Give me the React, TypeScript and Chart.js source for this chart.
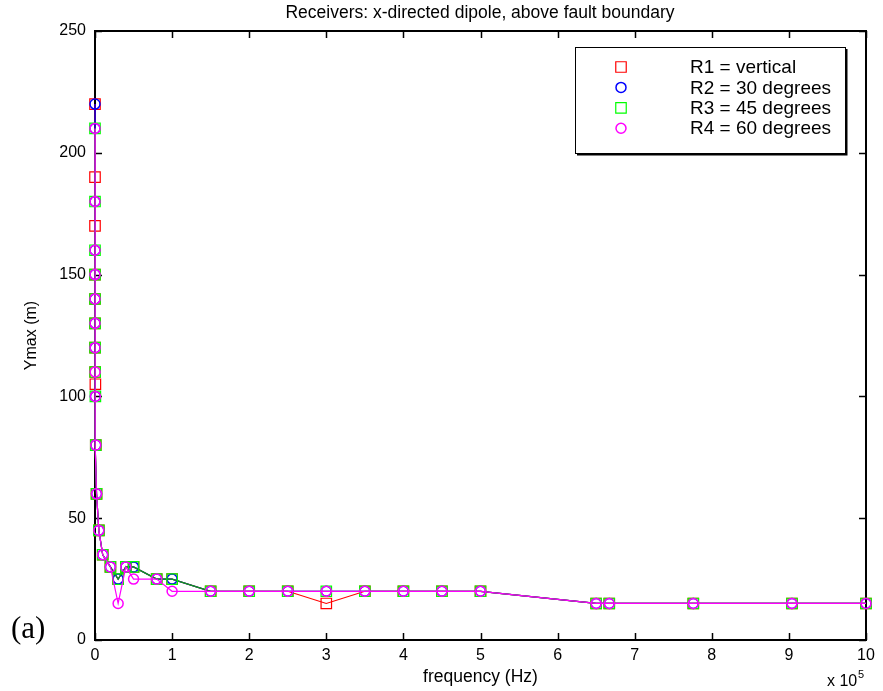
import React, { useEffect, useRef } from "react";
import { Chart, registerables } from "chart.js";

Chart.register(...registerables);

// frequency in units of 10^5 Hz
const lowFreqs = [0.00001, 0.00002, 0.00005, 0.0001, 0.0002, 0.0005, 0.001, 0.002, 0.005];
const freqs = [0.01, 0.02, 0.05, 0.1, 0.2, 0.3, 0.4, 0.5, 0.8, 1.0, 1.5, 2.0, 2.5, 3.0, 3.5, 4.0, 4.5, 5.0, 6.5, 6.67, 7.76, 9.04, 10];

const r1Low = [220, 190, 170, 150, 140, 130, 120, 110, 105];
const r1 = [80, 60, 45, 35, 30, 25, 30, 30, 25, 25, 20, 20, 20, 15, 20, 20, 20, 20, 15, 15, 15, 15, 15];
const r2Low = [220, 210, 180, 160, 150, 140, 130, 120, 100];
const r2 = [80, 60, 45, 35, 30, 25, 30, 30, 25, 25, 20, 20, 20, 20, 20, 20, 20, 20, 15, 15, 15, 15, 15];
const r3Low = [210, 180, 160, 150, 140, 130, 120, 110, 100];
const r3 = [80, 60, 45, 35, 30, 25, 30, 30, 25, 25, 20, 20, 20, 20, 20, 20, 20, 20, 15, 15, 15, 15, 15];
const r4Low = [210, 180, 160, 150, 140, 130, 120, 110, 100];
const r4 = [80, 60, 45, 35, 30, 15, 30, 25, 25, 20, 20, 20, 20, 20, 20, 20, 20, 20, 15, 15, 15, 15, 15];

const seriesNames = ["R1 = vertical", "R2 = 30 degrees", "R3 = 45 degrees", "R4 = 60 degrees"];
const xTicks = [0, 1, 2, 3, 4, 5, 6, 7, 8, 9, 10];
const yTicks = [0, 50, 100, 150, 200, 250];

const titleText = "Receivers: x-directed dipole, above fault boundary";
const xLabel = "frequency (Hz)";
const yLabel = "Ymax (m)";
const panelLabel = "(a)";

const FONT = "'Liberation Sans', Arial, sans-serif";

function toPoints(low: number[], high: number[]) {
  const xs = lowFreqs.concat(freqs);
  const ys = low.concat(high);
  return xs.map((x, i) => ({ x, y: ys[i] }));
}

const styles = [
  { line: "#ff0000", marker: "#ff0000", shape: "rect", r: 7.4, bw: 1.2 },
  { line: "#0000ff", marker: "#0000ff", shape: "circle", r: 5, bw: 1.5 },
  { line: "#10a010", marker: "#00ff00", shape: "rect", r: 7.4, bw: 1.2 },
  { line: "#ff00ff", marker: "#ff00ff", shape: "circle", r: 5, bw: 1.5 },
];

const decorPlugin = {
  id: "decor",
  beforeDatasetsDraw(chart: any) {
    const { ctx, chartArea: a, scales } = chart;
    ctx.save();
    ctx.strokeStyle = "#000";
    ctx.lineWidth = 1.5;
    const tl = 7;
    for (const v of xTicks) {
      const px = Math.round(scales.x.getPixelForValue(v)) + 0.5;
      ctx.beginPath();
      ctx.moveTo(px, a.bottom);
      ctx.lineTo(px, a.bottom - tl);
      ctx.moveTo(px, a.top);
      ctx.lineTo(px, a.top + tl);
      ctx.stroke();
    }
    for (const v of yTicks) {
      const py = Math.round(scales.y.getPixelForValue(v)) + 0.5;
      ctx.beginPath();
      ctx.moveTo(a.left, py);
      ctx.lineTo(a.left + tl, py);
      ctx.moveTo(a.right, py);
      ctx.lineTo(a.right - tl, py);
      ctx.stroke();
    }
    ctx.lineWidth = 2;
    ctx.strokeRect(a.left, a.top, a.right - a.left, a.bottom - a.top);
    ctx.restore();
  },
  afterDraw(chart: any) {
    const { ctx, chartArea: a } = chart;
    ctx.save();
    ctx.fillStyle = "#000";
    ctx.textAlign = "center";
    ctx.textBaseline = "middle";
    // title
    ctx.font = `17.5px ${FONT}`;
    ctx.fillText(titleText, (a.left + a.right) / 2 - 0.5, 13);
    // x label
    ctx.font = `17.5px ${FONT}`;
    ctx.fillText(xLabel, (a.left + a.right) / 2, 677);
    // y label
    ctx.save();
    ctx.translate(32, (a.top + a.bottom) / 2);
    ctx.rotate(-Math.PI / 2);
    ctx.font = `16px ${FONT}`;
    ctx.fillText(yLabel, 0, 0);
    ctx.restore();
    // x 10^5
    ctx.textAlign = "left";
    ctx.textBaseline = "alphabetic";
    ctx.font = `16px ${FONT}`;
    ctx.fillText("x 10", 827, 686);
    ctx.font = `11px ${FONT}`;
    ctx.fillText("5", 858, 678);
    // panel label
    ctx.font = `31px 'Liberation Serif', 'Times New Roman', serif`;
    ctx.textBaseline = "middle";
    ctx.fillText(panelLabel, 11, 630);

    // legend
    const lx = 575, ly = 47, lw = 270, lh = 106;
    ctx.fillStyle = "#fff";
    ctx.fillRect(lx, ly, lw, lh);
    ctx.strokeStyle = "#000";
    ctx.lineWidth = 1;
    ctx.strokeRect(lx + 0.5, ly + 0.5, lw, lh);
    ctx.lineWidth = 2;
    ctx.beginPath();
    ctx.moveTo(lx + 2, ly + lh + 1.5);
    ctx.lineTo(lx + lw + 1.5, ly + lh + 1.5);
    ctx.lineTo(lx + lw + 1.5, ly + 2);
    ctx.stroke();
    ctx.font = `19px ${FONT}`;
    ctx.textBaseline = "middle";
    ctx.textAlign = "left";
    for (let i = 0; i < seriesNames.length; i++) {
      const cy = 67 + i * 20.4;
      const s = styles[i];
      ctx.strokeStyle = s.marker;
      ctx.lineWidth = s.bw;
      ctx.beginPath();
      if (s.shape === "rect") {
        const h = s.r * Math.SQRT1_2;
        ctx.rect(621 - h, cy - h, 2 * h, 2 * h);
      } else {
        ctx.arc(621, cy, s.r, 0, Math.PI * 2);
      }
      ctx.stroke();
      ctx.fillStyle = "#000";
      ctx.fillText(seriesNames[i], 690, cy + 1);
    }
    ctx.restore();
  },
};

export default function App() {
  const ref = useRef<HTMLCanvasElement>(null);
  useEffect(() => {
    const lows = [r1Low, r2Low, r3Low, r4Low];
    const highs = [r1, r2, r3, r4];
    const datasets = styles.map((s, i) => ({
      label: seriesNames[i],
      data: toPoints(lows[i], highs[i]),
      showLine: true,
      borderColor: s.line,
      borderWidth: 1.2,
      pointStyle: s.shape,
      pointRadius: s.r,
      pointBorderColor: s.marker,
      pointBackgroundColor: "rgba(0,0,0,0)",
      pointBorderWidth: s.bw,
      clip: false,
      order: 4 - i,
      tension: 0,
    }));
    const chart = new Chart(ref.current!, {
      type: "scatter",
      data: { datasets } as any,
      options: {
        animation: false,
        responsive: false,
        devicePixelRatio: 1,
        layout: { padding: { left: 0, top: 31, right: 17, bottom: 0 } },
        plugins: { legend: { display: false }, tooltip: { enabled: false } },
        scales: {
          x: {
            type: "linear",
            min: 0,
            max: 10,
            afterFit: (s: any) => { s.height = 51; },
            afterBuildTicks: (s: any) => { s.ticks = xTicks.map((v) => ({ value: v })); },
            grid: { display: false, drawTicks: false, tickLength: 0 },
            border: { display: false },
            ticks: { color: "#000", font: { size: 16, family: FONT }, padding: 6, maxRotation: 0, autoSkip: false },
          },
          y: {
            type: "linear",
            min: 0,
            max: 250,
            afterFit: (s: any) => { s.width = 95; },
            afterBuildTicks: (s: any) => { s.ticks = yTicks.map((v) => ({ value: v })); },
            grid: { display: false, drawTicks: false, tickLength: 0 },
            border: { display: false },
            ticks: { color: "#000", font: { size: 16, family: FONT }, padding: 9, autoSkip: false },
          },
        },
      } as any,
      plugins: [decorPlugin],
    });
    return () => chart.destroy();
  }, []);
  return (
    <div style={{ position: "absolute", left: 0, top: 0, width: 883, height: 691, background: "#fff" }}>
      <canvas ref={ref} width={883} height={691} style={{ display: "block", width: 883, height: 691 }} />
    </div>
  );
}
